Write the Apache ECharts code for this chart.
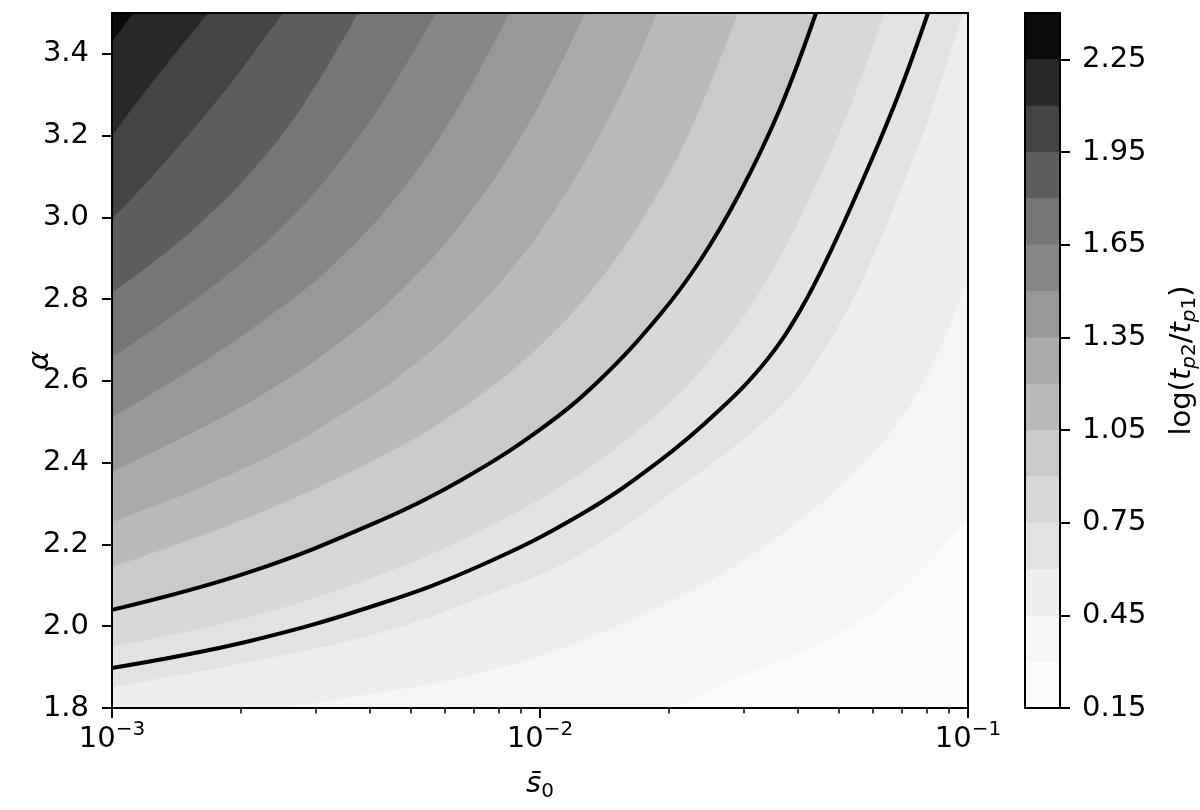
<!DOCTYPE html>
<html>
<head>
<meta charset="utf-8">
<script src="https://cdn.jsdelivr.net/npm/echarts@6/dist/echarts.min.js"></script>
<style>
  html, body { margin: 0; padding: 0; background: #fff; }
  #chart { width: 1200px; height: 810px; }
</style>
</head>
<body>
<div id="chart"></div>
<script>
// contour levels of log(tp2/tp1), one colour per band (band i = levels[i]..levels[i+1])
const levels = [0.15, 0.30, 0.45, 0.60, 0.75, 0.90, 1.05, 1.20, 1.35, 1.50, 1.65, 1.80, 1.95, 2.10, 2.25, 2.40];
const bandColors = ['#fbfbfb', '#f5f5f5', '#eeeeee', '#e3e3e3', '#d8d8d8', '#cacaca', '#bababa', '#aaaaaa',
  '#989898', '#878787', '#767676', '#5e5e5e', '#444444', '#282828', '#0b0b0b'];

// ticks
const s0Ticks = [0.001, 0.01, 0.1];
const s0MinorTicks = [0.002, 0.003, 0.004, 0.005, 0.006, 0.007, 0.008, 0.009,
  0.02, 0.03, 0.04, 0.05, 0.06, 0.07, 0.08, 0.09];
const alphaTicks = [1.8, 2.0, 2.2, 2.4, 2.6, 2.8, 3.0, 3.2, 3.4];
const cbTicks = [0.15, 0.45, 0.75, 1.05, 1.35, 1.65, 1.95, 2.25];

// band boundaries, [s0, alpha]
const contour030 = [[0.001, 1.8], [0.01837, 1.8], [0.02933, 1.876], [0.04051, 1.935], [0.05999, 2.033], [0.07723, 2.133], [0.1, 2.263]];
const contour045 = [[0.001, 1.8], [0.002046, 1.8], [0.004462, 1.842], [0.008064, 1.898], [0.0124, 1.964], [0.02124, 2.072],
  [0.02933, 2.155], [0.04051, 2.26], [0.05299, 2.366], [0.06936, 2.505], [0.08327, 2.647], [0.1, 2.848]];
const contour060 = [[0.001, 1.851], [0.002101, 1.913], [0.004228, 1.984], [0.007242, 2.069], [0.0124, 2.175], [0.02124, 2.341],
  [0.02933, 2.451], [0.03777, 2.554], [0.04462, 2.652], [0.05386, 2.799], [0.06096, 2.921], [0.06825, 3.044], [0.076, 3.166],
  [0.08372, 3.288], [0.09735, 3.5]];
const contour075 = [[0.001, 1.949], [0.002101, 2.023], [0.004228, 2.126], [0.007242, 2.233], [0.0124, 2.373], [0.02045, 2.554],
  [0.02605, 2.676], [0.03179, 2.799], [0.03717, 2.921], [0.04251, 3.044], [0.04812, 3.166], [0.05386, 3.288], [0.06399, 3.5]];
const contour105 = [[0.001, 2.145], [0.002101, 2.268], [0.004228, 2.414], [0.006504, 2.53], [0.01, 2.686], [0.01381, 2.848],
  [0.01807, 3.026], [0.02241, 3.21], [0.02902, 3.5]];
const contour120 = [[0.001, 2.255], [0.001606, 2.339], [0.002469, 2.429], [0.003465, 2.52], [0.004709, 2.613], [0.006504, 2.738],
  [0.00898, 2.899], [0.01175, 3.075], [0.01458, 3.249], [0.01713, 3.401], [0.01876, 3.5]];
const contour135 = [[0.001, 2.378], [0.001606, 2.483], [0.00234, 2.578], [0.003231, 2.676], [0.004709, 2.818], [0.006863, 3.012],
  [0.00898, 3.193], [0.01114, 3.372], [0.01274, 3.5]];
const contour150 = [[0.001, 2.51], [0.001606, 2.642], [0.00234, 2.76], [0.003231, 2.877], [0.004709, 3.061], [0.006504, 3.276], [0.008465, 3.5]];
const contour165 = [[0.001, 2.657], [0.001442, 2.772], [0.002068, 2.899], [0.002605, 2.997], [0.003231, 3.105], [0.004274, 3.279], [0.005714, 3.5]];
const contour180 = [[0.001, 2.816], [0.001274, 2.897], [0.00165, 2.997], [0.002159, 3.122], [0.002825, 3.281], [0.003756, 3.5]];
const contour195 = [[0.001, 2.995], [0.001163, 3.068], [0.001366, 3.149], [0.001606, 3.235], [0.001991, 3.357], [0.002509, 3.5]];
const contour210 = [[0.001, 3.199], [0.001181, 3.301], [0.001418, 3.406], [0.001676, 3.5]];
const contour225 = [[0.001, 3.429], [0.001055, 3.462], [0.00112, 3.5]];

// the two black lines (the upper one lies on the 0.90 boundary)
const upperLine = [[0.001, 2.04], [0.002101, 2.133], [0.004228, 2.258], [0.006504, 2.356], [0.01, 2.481], [0.01381, 2.603],
  [0.01907, 2.762], [0.02365, 2.894], [0.02933, 3.061], [0.03637, 3.266], [0.04414, 3.5]];
const lowerLine = [[0.001, 1.898], [0.002101, 1.964], [0.004228, 2.055], [0.007242, 2.148], [0.0124, 2.272], [0.01907, 2.405],
  [0.02633, 2.53], [0.03392, 2.652], [0.04051, 2.772], [0.04761, 2.914], [0.05903, 3.132], [0.06936, 3.31], [0.08063, 3.5]];

const boundaries = [
  [0.30, contour030], [0.45, contour045], [0.60, contour060], [0.75, contour075], [0.90, upperLine],
  [1.05, contour105], [1.20, contour120], [1.35, contour135], [1.50, contour150], [1.65, contour165],
  [1.80, contour180], [1.95, contour195], [2.10, contour210], [2.25, contour225]
];

const FONT = 'DejaVu Sans';
const FS = 29;
const SUB = 20;
const black = '#000';

const chart = echarts.init(document.getElementById('chart'));

// each band: fill from its lower boundary up to the top of the plot, lowest first
const fillSeries = boundaries.map(([lv, pts]) => ({
  type: 'line',
  xAxisIndex: 0,
  yAxisIndex: 0,
  data: pts,
  smooth: 0.4,
  symbol: 'none',
  silent: true,
  lineStyle: { opacity: 0 },
  areaStyle: { origin: 'end', color: bandColors[levels.indexOf(lv)], opacity: 1 },
  z: 2
}));

const lineSeries = [upperLine, lowerLine].map((pts) => ({
  type: 'line',
  xAxisIndex: 0,
  yAxisIndex: 0,
  data: pts,
  smooth: 0.4,
  symbol: 'none',
  silent: true,
  lineStyle: { color: black, width: 4 },
  z: 3
}));

// colorbar: one bar per band, tallest first so the lower ones sit on top
const barSeries = bandColors.map((c, i) => i).reverse().map((i) => ({
  type: 'bar',
  xAxisIndex: 3,
  yAxisIndex: 2,
  data: [levels[i + 1]],
  barWidth: '100%',
  barGap: '-100%',
  itemStyle: { color: bandColors[i] },
  silent: true
}));

const expLabel = (v) => {
  const e = Math.round(Math.log10(v));
  return '{b|10}{s|' + (e < 0 ? '\u2212' : '') + Math.abs(e) + '}';
};

const frameLine = { show: true, onZero: false, lineStyle: { color: black, width: 2 } };
const majorTick = (vals) => ({ show: true, length: 10, lineStyle: { color: black, width: 2 }, customValues: vals });

const option = {
  animation: false,
  backgroundColor: '#fff',
  textStyle: { fontFamily: FONT, color: black },
  grid: [
    { left: 112, right: 232, top: 13, bottom: 102, show: true, backgroundColor: bandColors[0], borderWidth: 0,
      containLabel: false, outerBoundsMode: 'none' },
    { left: 1025, right: 140, top: 13, bottom: 102, containLabel: false, outerBoundsMode: 'none' }
  ],
  xAxis: [
    {
      type: 'log', logBase: 10, min: 0.001, max: 0.1, gridIndex: 0, position: 'bottom', z: 5,
      axisLine: frameLine,
      axisTick: majorTick(s0Ticks),
      axisLabel: {
        customValues: s0Ticks, margin: 12, color: black, formatter: expLabel,
        rich: {
          b: { fontFamily: FONT, fontSize: FS, color: black, lineHeight: 38 },
          s: { fontFamily: FONT, fontSize: SUB, color: black, verticalAlign: 'top', lineHeight: 20 }
        }
      },
      splitLine: { show: false },
      name: '{i|s\u0304}{s|0}', nameLocation: 'middle', nameGap: 58, nameMoveOverlap: false,
      nameTextStyle: {
        rich: {
          i: { fontFamily: FONT, fontSize: FS, fontStyle: 'italic', color: black, lineHeight: 36 },
          s: { fontFamily: FONT, fontSize: SUB, color: black, verticalAlign: 'bottom', lineHeight: 22 }
        }
      }
    },
    {
      type: 'log', logBase: 10, min: 0.001, max: 0.1, gridIndex: 0, position: 'bottom', z: 5,
      axisLine: { show: false },
      axisTick: { show: true, length: 5.5, lineStyle: { color: black, width: 1.5 }, customValues: s0MinorTicks },
      axisLabel: { show: false },
      splitLine: { show: false }
    },
    {
      type: 'log', logBase: 10, min: 0.001, max: 0.1, gridIndex: 0, position: 'top', z: 5,
      axisLine: frameLine, axisTick: { show: false }, axisLabel: { show: false }, splitLine: { show: false }
    },
    {
      type: 'category', data: ['cb'], gridIndex: 1, position: 'bottom', z: 5,
      axisLine: frameLine, axisTick: { show: false }, axisLabel: { show: false }, splitLine: { show: false }
    },
    {
      type: 'category', data: ['cb'], gridIndex: 1, position: 'top', z: 5,
      axisLine: frameLine, axisTick: { show: false }, axisLabel: { show: false }, splitLine: { show: false }
    }
  ],
  yAxis: [
    {
      type: 'value', min: 1.8, max: 3.5, interval: 0.2, gridIndex: 0, position: 'left', z: 5,
      axisLine: frameLine,
      axisTick: majorTick(alphaTicks),
      axisLabel: { customValues: alphaTicks, fontSize: FS, color: black, margin: 23, formatter: (v) => v.toFixed(1) },
      splitLine: { show: false },
      name: '\u03b1', nameLocation: 'middle', nameGap: 57, nameRotate: 90, nameMoveOverlap: false,
      nameTextStyle: { fontSize: FS, fontStyle: 'italic', color: black }
    },
    {
      type: 'value', min: 1.8, max: 3.5, gridIndex: 0, position: 'right', z: 5,
      axisLine: frameLine, axisTick: { show: false }, axisLabel: { show: false }, splitLine: { show: false }
    },
    {
      type: 'value', min: 0.15, max: 2.4, gridIndex: 1, position: 'right', z: 5,
      axisLine: frameLine,
      axisTick: majorTick(cbTicks),
      axisLabel: { customValues: cbTicks, fontSize: FS, color: black, margin: 22, formatter: (v) => v.toFixed(2) },
      splitLine: { show: false },
      name: '{n|log(}{i|t}{si|p}{s|2}{n|/}{i|t}{si|p}{s|1}{n|)}',
      nameLocation: 'middle', nameGap: 104, nameRotate: 90,
      nameTextStyle: {
        rich: {
          n: { fontFamily: FONT, fontSize: FS, color: black, lineHeight: 36 },
          i: { fontFamily: FONT, fontSize: FS, fontStyle: 'italic', color: black, lineHeight: 36 },
          si: { fontFamily: FONT, fontSize: SUB, fontStyle: 'italic', color: black, verticalAlign: 'bottom', lineHeight: 24 },
          s: { fontFamily: FONT, fontSize: SUB, color: black, verticalAlign: 'bottom', lineHeight: 24 }
        }
      }
    },
    {
      type: 'value', min: 0.15, max: 2.4, gridIndex: 1, position: 'left', z: 5,
      axisLine: frameLine, axisTick: { show: false }, axisLabel: { show: false }, splitLine: { show: false }
    }
  ],
  series: [...fillSeries, ...lineSeries, ...barSeries]
};

chart.setOption(option);
</script>
</body>
</html>
